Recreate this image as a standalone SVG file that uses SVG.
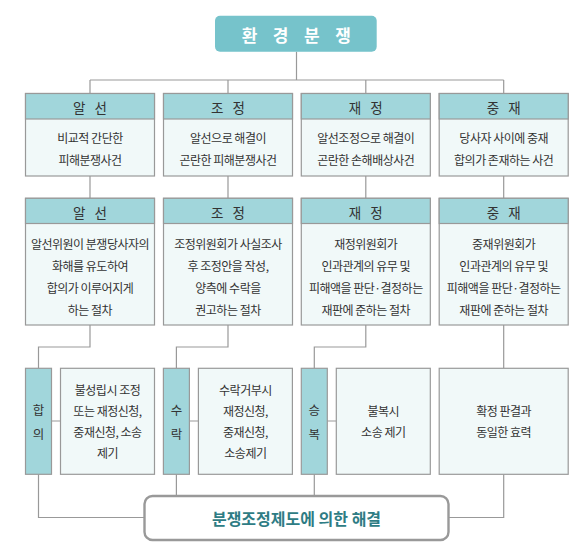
<svg xmlns="http://www.w3.org/2000/svg" width="587" height="560" viewBox="0 0 587 560">
<style>
text{font-family:"Noto Sans CJK KR","Noto Sans",sans-serif;fill:#333;dominant-baseline:central;text-anchor:middle}
.body{font-size:12px;letter-spacing:-0.5px}
.hd{font-size:13.5px;letter-spacing:3px}
.vt{font-size:12.5px}
.hdr{fill:#a1d6db;stroke:#999;stroke-width:1.2}
.box{fill:#f1f9f9;stroke:#999;stroke-width:1.2}
.ln{fill:none;stroke:#999;stroke-width:1.2}
.title{font-size:17px;font-weight:bold;fill:#fff;letter-spacing:15.5px}
.res{font-size:16px;font-weight:bold;fill:#2e7c84}
</style>
<rect width="587" height="560" fill="#fff"/>
<g id="connectors">
<path class="ln" d="M296.5 51.7V80M90 80H503.7M90 80V93.5M228 80V93.5M365.8 80V93.5M503.7 80V93.5"/>
<path class="ln" d="M90 176V198.3M228 176V198.3M365.8 176V198.3M503.7 176V198.3"/>
<path class="ln" d="M90 325V347H38.5V368.3M228 325V347H176.4V368.3M365.8 325V347H314.3V368.3M503.7 325V368.3"/>
<path class="ln" d="M51.5 421H60.5M189.4 421H198.4M327.3 421H336.3"/>
<path class="ln" d="M38.5 474.3V517.5H144.5M176.4 474.3V496M314.3 474.3V496M503.7 474.3V517.5H448.5"/>
</g>
<g id="title">
<rect x="215" y="15.7" width="161.7" height="36" rx="5" fill="#76c3cb"/>
<text class="title" x="304" y="34">환경분쟁</text>
</g>
<g id="r1c1">
<rect class="box" x="25.5" y="93.5" width="129" height="82.5"/>
<rect class="hdr" x="25.5" y="93.5" width="129" height="25.5"/>
<text class="hd" x="91.5" y="106.5">알 선</text>
<text class="body" x="90" y="137.3">비교적 간단한</text>
<text class="body" x="90" y="159">피해분쟁사건</text>
</g>
<g id="r1c2">
<rect class="box" x="163.5" y="93.5" width="129" height="82.5"/>
<rect class="hdr" x="163.5" y="93.5" width="129" height="25.5"/>
<text class="hd" x="229.5" y="106.5">조 정</text>
<text class="body" x="228" y="137.3">알선으로 해결이</text>
<text class="body" x="228" y="159">곤란한 피해분쟁사건</text>
</g>
<g id="r1c3">
<rect class="box" x="301.3" y="93.5" width="129" height="82.5"/>
<rect class="hdr" x="301.3" y="93.5" width="129" height="25.5"/>
<text class="hd" x="367.3" y="106.5">재 정</text>
<text class="body" x="365.8" y="137.3">알선조정으로 해결이</text>
<text class="body" x="365.8" y="159">곤란한 손해배상사건</text>
</g>
<g id="r1c4">
<rect class="box" x="439.2" y="93.5" width="129" height="82.5"/>
<rect class="hdr" x="439.2" y="93.5" width="129" height="25.5"/>
<text class="hd" x="505.2" y="106.5">중 재</text>
<text class="body" x="503.7" y="137.3">당사자 사이에 중재</text>
<text class="body" x="503.7" y="159">합의가 존재하는 사건</text>
</g>
<g id="r2c1">
<rect class="box" x="25.5" y="198.3" width="129" height="126.7"/>
<rect class="hdr" x="25.5" y="198.3" width="129" height="25.2"/>
<text class="hd" x="91.5" y="211.5">알 선</text>
<text class="body" x="90" y="243">알선위원이 분쟁당사자의</text>
<text class="body" x="90" y="265">화해를 유도하여</text>
<text class="body" x="90" y="287">합의가 이루어지게</text>
<text class="body" x="90" y="309">하는 절차</text>
</g>
<g id="r2c2">
<rect class="box" x="163.5" y="198.3" width="129" height="126.7"/>
<rect class="hdr" x="163.5" y="198.3" width="129" height="25.2"/>
<text class="hd" x="229.5" y="211.5">조 정</text>
<text class="body" x="228" y="243">조정위원회가 사실조사</text>
<text class="body" x="228" y="265">후 조정안을 작성,</text>
<text class="body" x="228" y="287">양측에 수락을</text>
<text class="body" x="228" y="309">권고하는 절차</text>
</g>
<g id="r2c3">
<rect class="box" x="301.3" y="198.3" width="129" height="126.7"/>
<rect class="hdr" x="301.3" y="198.3" width="129" height="25.2"/>
<text class="hd" x="367.3" y="211.5">재 정</text>
<text class="body" x="365.8" y="243">재정위원회가</text>
<text class="body" x="365.8" y="265">인과관계의 유무 및</text>
<text class="body" x="365.8" y="287">피해액을 판단·결정하는</text>
<text class="body" x="365.8" y="309">재판에 준하는 절차</text>
</g>
<g id="r2c4">
<rect class="box" x="439.2" y="198.3" width="129" height="126.7"/>
<rect class="hdr" x="439.2" y="198.3" width="129" height="25.2"/>
<text class="hd" x="505.2" y="211.5">중 재</text>
<text class="body" x="503.7" y="243">중재위원회가</text>
<text class="body" x="503.7" y="265">인과관계의 유무 및</text>
<text class="body" x="503.7" y="287">피해액을 판단·결정하는</text>
<text class="body" x="503.7" y="309">재판에 준하는 절차</text>
</g>
<g id="r3c1-tag">
<rect class="hdr" x="25.5" y="368.3" width="26" height="106"/>
<text class="vt" x="38.5" y="409.5">합</text>
<text class="vt" x="38.5" y="433.5">의</text>
</g>
<g id="r3c1">
<rect class="box" x="60.5" y="368.3" width="94" height="106"/>
<text class="body" x="107.5" y="389.5">불성립시 조정</text>
<text class="body" x="107.5" y="410.5">또는 재정신청,</text>
<text class="body" x="107.5" y="431.5">중재신청, 소송</text>
<text class="body" x="107.5" y="452.5">제기</text>
</g>
<g id="r3c2-tag">
<rect class="hdr" x="163.4" y="368.3" width="26" height="106"/>
<text class="vt" x="176.4" y="409.5">수</text>
<text class="vt" x="176.4" y="433.5">락</text>
</g>
<g id="r3c2">
<rect class="box" x="198.4" y="368.3" width="94" height="106"/>
<text class="body" x="245.4" y="389.5">수락거부시</text>
<text class="body" x="245.4" y="410.5">재정신청,</text>
<text class="body" x="245.4" y="431.5">중재신청,</text>
<text class="body" x="245.4" y="452.5">소송제기</text>
</g>
<g id="r3c3-tag">
<rect class="hdr" x="301.3" y="368.3" width="26" height="106"/>
<text class="vt" x="314.3" y="409.5">승</text>
<text class="vt" x="314.3" y="433.5">복</text>
</g>
<g id="r3c3">
<rect class="box" x="336.3" y="368.3" width="94" height="106"/>
<text class="body" x="383.3" y="410.5">불복시</text>
<text class="body" x="383.3" y="431.5">소송 제기</text>
</g>
<g id="r3c4">
<rect class="box" x="439.2" y="368.3" width="129" height="106"/>
<text class="body" x="503.7" y="410.5">확정 판결과</text>
<text class="body" x="503.7" y="431.5">동일한 효력</text>
</g>
<g id="result">
<rect x="144.5" y="496" width="304" height="44" rx="8" fill="#fff" stroke="#999" stroke-width="2.4"/>
<text class="res" x="296.5" y="517.5">분쟁조정제도에 의한 해결</text>
</g>
</svg>
